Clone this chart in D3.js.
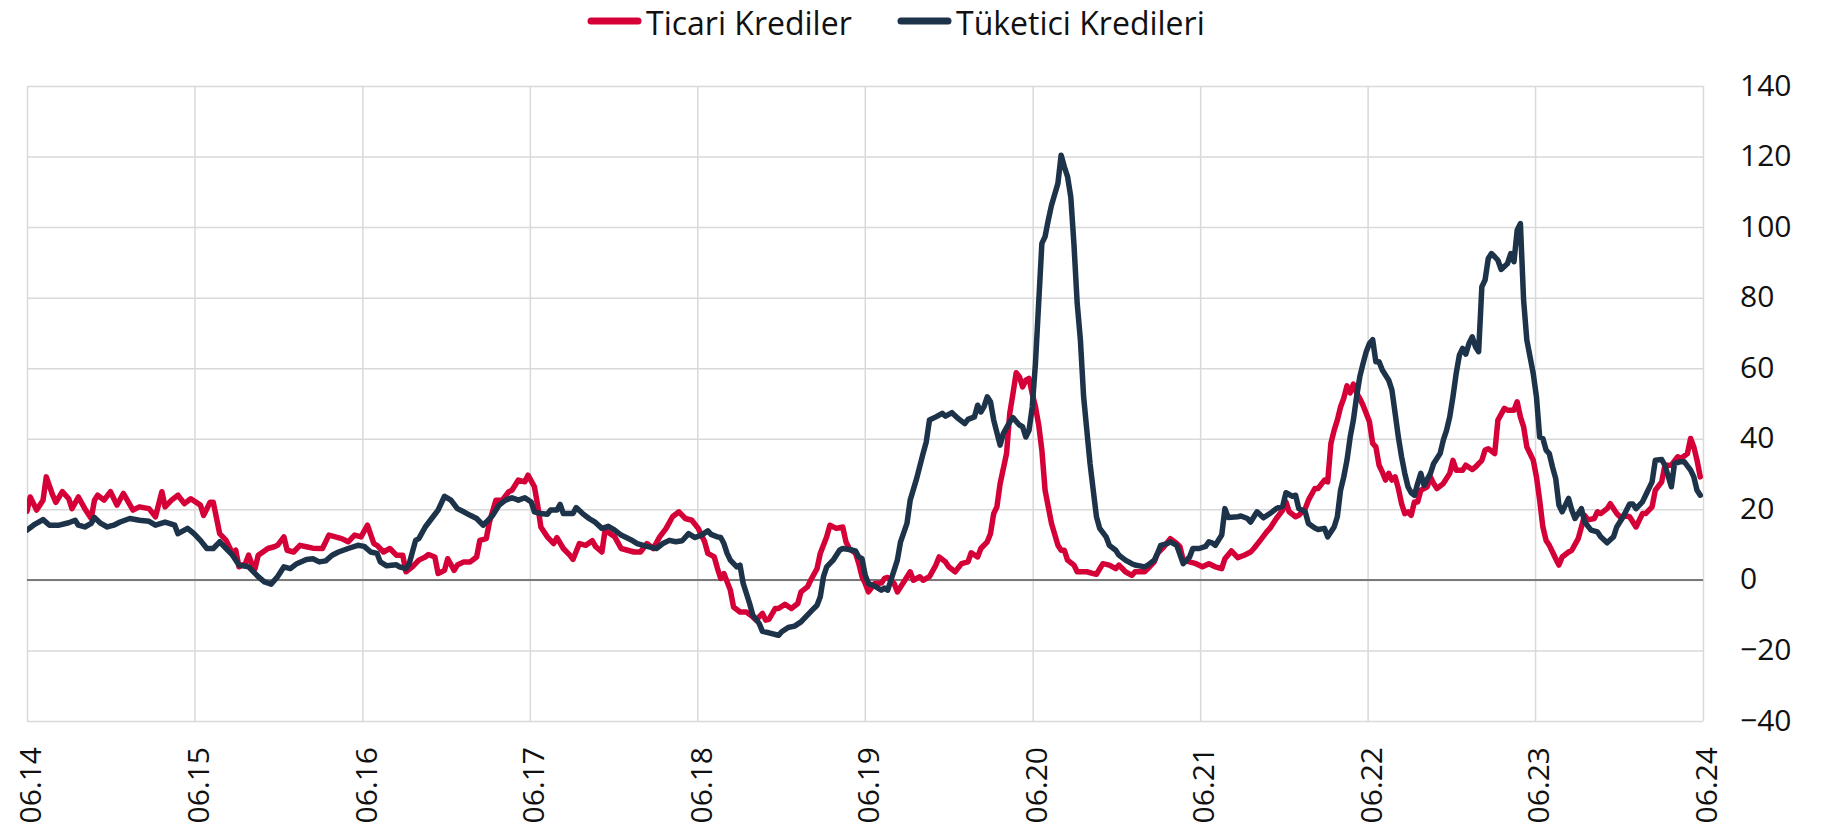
<!DOCTYPE html>
<html>
<head>
<meta charset="utf-8">
<script src="https://cdn.jsdelivr.net/npm/d3@7"></script>
<style>
  body { margin: 0; background: #fff; }
  svg text { font-family: "Open Sans", "Noto Sans", sans-serif; fill: #111; }
</style>
</head>
<body>
<svg id="chart" width="1831" height="830"></svg>
<script>
// Series names, axis ticks and weekly observations (week number since June 2014, % change)
const seriesNames = ["Ticari Krediler", "Tüketici Kredileri"];
const xTickLabels = ["06.14","06.15","06.16","06.17","06.18","06.19","06.20","06.21","06.22","06.23","06.24"];
const yTickValues = [-40,-20,0,20,40,60,80,100,120,140];

const ticari = [
[0,19.5],[1,23.5],[3,19.8],[5,22.6],[6,29.2],[8,24],[9,22],[11,25],[13,23],[14,20.2],[16,23.5],[18,20.2],[20,17.4],[21,22.6],[22,24],[24,22.6],[26,25],[28,21.2],[30,24.5],[33,19.8],[35,20.7],[38,20.2],[40,17.9],[42,25],[43,20.7],[45,22.6],[47,24],[49,21.6],[51,23],[54,21.2],[55,18.3],[57,22],[58,22],[60,13.1],[62,11.2],[64,7.5],[65,8.4],[66,3.7],[68,4.6],[69,7],[70,4.6],[71,3.2],[72,7],[75,8.9],[77,9.4],[78,9.8],[80,12.2],[81,8.4],[83,7.9],[85,9.8],[87,9.4],[89,9],[92,8.9],[94,12.7],[96,12.2],[98,11.7],[100,10.8],[102,12.7],[104,12.2],[106,15.5],
[108,10.3],[109,9.8],[111,7.9],[113,8.9],[115,7],[117,7],[118,2.3],[120,3.7],[122,5.6],[124,6.5],[125,7.2],[127,6.5],[128,1.8],[130,2.7],[131,6],[133,2.7],[134,4.2],[136,5.1],[138,5.1],[140,6.5],[141,11.2],[143,11.7],[144,16.4],[146,22.6],[148,22.6],[150,25],[151,25.4],[153,28.3],[155,27.8],[156,29.7],[158,26.4],[159,21.2],[160,15],[162,12.2],[164,10.3],[165,12],[167,8.9],[169,7],[170,5.8],[172,10.3],[174,9.8],[176,11.1],[177,9.5],[179,7.9],[180,14.1],[183,12.2],[185,8.9],[187,8.4],[189,7.9],[191,7.9],[193,10.3],[195,8.9],[197,12.2],[199,14.6],[201,17.9],[203,19.3],[205,17.4],[207,16.9],
[209,14.6],[211,10.8],[212,7.5],[214,6.5],[215,3.2],[216,0.4],[217,1.8],[219,-2.9],[220,-7.7],[222,-9.1],[224,-9.1],[226,-10.5],[227,-11.4],[229,-9.5],[230,-11.4],[231,-11.2],[233,-8.1],[234,-8.1],[236,-6.9],[238,-8.1],[240,-6.7],[241,-3.4],[243,-2],[244,-0.1],[246,3.2],[247,7.5],[249,12.2],[250,15.5],[252,14.6],[254,15],[255,10.8],[256,8.9],[258,7.5],[259,4.6],[260,0.9],[261,-1],[262,-3.4],[264,-1],[266,-0.9],[267,0.4],[268,0.7],[270,-1],[271,-3.4],[273,-0.6],[275,2.3],[276,-0.1],[278,0.9],[279,-0.1],[281,0.9],[283,4.2],[284,6.5],[286,5.1],[287,3.7],[289,2.3],[291,4.6],[293,5.1],[294,7.7],[296,6.5],[297,8.9],[299,10.8],[300,13.1],[301,18.8],[302,20.7],[303,27.3],[305,35.8],[306,47.2],[307,52.8],[308,58.7],[309,57.6],[310,54.7],[311,56.6],[312,57.1],[313,52.8],[314,49.1],[315,44],[316,36.8],[317,25.4],[319,16],[321,9.8],[322,8.4],[323,8.4],[324,5.6],[326,4.2],[327,2.3],[329,2.3],[330,2.3],[332,1.8],[333,1.6],[335,4.6],[337,4.2],[339,3.2],[340,4.2],[342,2.3],[344,1.3],[345,2.3],[348,2.3],[349,3.2],[351,5.1],[352,7.5],[354,9.4],[356,11.7],[358,10.3],[359,9.4],[360,5.6],
[362,5.1],[364,4.6],[366,3.7],[368,4.6],[370,3.7],[372,3.2],[373,6],[375,8.2],[377,6.3],[379,7],[381,7.9],[382,8.9],[384,11.2],[386,13.6],[387,14.6],[389,17.4],[391,19.8],[392,22.1],[393,19.3],[395,17.9],[396,18.3],[398,20.2],[399,22.6],[401,25.9],[402,25.9],[404,28.3],[405,27.8],[406,38.7],[407,42.4],[408,45.3],[409,49],[410,51.5],[411,55],[412,53],[413,55.5],[414,53],
[415,51.4],[416,49.5],[417,47.2],[418,44.8],[419,38.7],[420,37.7],[421,32.5],[422,30.6],[423,28.3],[424,30.2],[425,28.3],[426,29.2],[427,25.9],[428,21.6],[429,18.8],[430,19.3],[431,18.3],[432,22.1],[433,22.1],[434,25.4],[436,26.4],[437,29.2],[438,27.3],[439,25.9],[441,27.3],[443,30.2],[444,33.9],[445,31.1],[447,31.1],[448,32.5],[450,31.3],[451,32],[453,33.9],[454,36.8],[455,37.2],[457,35.8],[458,45.3],[460,48.6],[461,48.1],[463,48.1],[464,50.5],[465,46.2],[466,43.4],[467,37.7],
[469,33.9],[470,29.2],[471,22.6],[472,15],[473,11.2],[474,9.8],[475,7.9],[476,6],[477,4.2],[478,6.5],[480,7.9],[481,8.4],[483,11.7],[484,15],[485,18.3],[486,17],[488,17.4],[489,19.3],[490,18.8],[492,20.2],[493,21.6],[495,18.8],[496,17.9],[498,18.1],[499,17.9],[501,15],[503,18.8],[504,18.8],[506,20.7],[507,25.4],[509,27.8],[510,32.5],[512,32.5],[514,34.9],[515,34.4],[517,35.8],[518,40.1],[519,37.7],[520,33.9],[521,29.2]
];

const tuketici = [
[0,14.1],[2,15.5],[5,17.1],[7,15.5],[10,15.5],[13,16.2],[15,16.9],[16,15.5],[18,15],[20,16],[21,17.7],[23,16],[25,15],[27,15.5],[29,16.4],[32,17.4],[35,16.9],[38,16.6],[40,15.5],[43,16.4],[46,15.5],[47,13.1],[50,14.6],[52,13.1],[54,11.2],[56,8.9],[58,8.9],[60,10.8],[62,8.9],[64,7],[66,4.2],[69,3.7],[72,0.9],[74,-0.6],[76,-1.2],[78,0.9],[80,3.7],[82,3.2],[84,4.6],[87,5.8],[89,6],[91,5.1],[93,5.4],[95,7],[97,7.9],[100,8.9],[103,9.8],[105,9.5],
[107,7.9],[109,7.5],[110,5.1],[112,4],[115,4.3],[116,3.7],[118,3.2],[119,4.6],[121,11.2],[122,11.7],[124,15],[126,17.4],[128,19.8],[130,23.7],[132,22.6],[134,20.2],[136,19.3],[138,18.3],[140,17.4],[142,15.5],[143,16.4],[145,18.3],[147,21.2],[149,22.6],[151,23.3],[153,22.6],[155,23.3],[157,22.1],[158,19.3],[160,18.8],[162,18.6],[163,19.8],[165,19.8],[166,21.4],[167,18.8],[170,18.8],[171,20.5],[173,18.8],[175,17.4],[177,16.3],[179,14.6],[181,15.2],[183,14.1],[185,12.7],[188,11.4],[190,10.3],[193,9.5],[196,8.9],[198,10.3],[200,11.2],[202,10.8],[204,11.1],[206,13.1],
[208,12],[210,12.7],[212,13.9],[213,12.9],[215,12.2],[216,12],[217,10.3],[218,7.5],[219,5.6],[221,3.7],[222,4.2],[223,-1],[225,-6.7],[226,-10],[228,-12.4],[229,-14.6],[231,-15],[234,-15.7],[235,-14.7],[237,-13.5],[239,-13.1],[241,-11.9],[243,-10],[245,-8.1],[246,-7.2],[247,-4.8],[248,0.9],[249,3.7],[251,5.6],[253,8.4],[254,8.9],[256,8.6],[258,8.2],[259,6.5],[260,6],[261,1.3],[262,-1],[264,-1.8],[266,-2.9],[267,-2.3],[268,-2.9],[269,-0.1],[271,5.6],[272,10.8],[274,16],[275,22.6],[277,28.7],[279,35.8],[280,39.1],[281,45.3],[283,46.2],[285,47.2],[286,46.4],[288,47.4],[290,45.7],[292,44.3],[293,45.5],[295,46.2],[296,49.5],[297,47.6],[298,49.1],[299,51.9],[300,50.5],[301,45.3],[303,38.2],[304,41.5],[306,44.8],[307,46],[309,43.9],[310,43.4],[311,40.5],[312,42.4],[313,49],[314,61.3],[315,78.4],[316,95.4],[317,97.3],[318,102],[319,106.2],[321,112.4],[322,120.4],[323,117.1],[324,114.3],[325,108.6],[326,95],[327,78.4],[328,68],[329,51.9],[330,42.4],[331,33],[332,25.4],[333,17.9],[334,14.6],[336,12.2],[337,9.8],[339,8.4],[340,7],[342,5.6],[344,4.6],[345,4.2],[348,3.7],[349,4.2],[351,5.6],[352,7.5],[353,9.8],[355,10.3],[356,10.8],[358,9.8],[360,4.6],[362,6.5],[363,8.9],[365,8.9],[367,9.5],[368,10.8],
[369,10.5],[370,9.8],[372,12.7],[373,20.2],[374,17.7],[377,17.9],[378,18.1],[380,17.4],[381,16.4],[383,19.3],[385,17.6],[387,18.8],[389,20.2],[391,20.9],[392,24.7],[394,23.7],[395,24],[396,20.2],[398,19.3],[399,16],[401,14.7],[402,14.3],[404,14.6],[405,12.2],[407,15],[408,17.9],[409,25.4],[410,29.2],[411,33.9],[412,40.5],[413,45.3],[414,52],
[415,57.6],[416,61.3],[417,64.7],[418,67],[419,68.1],[420,61.8],[421,61.8],[422,59.5],[424,56.6],[425,53.8],[426,47.2],[427,40.5],[428,34.9],[429,30.2],[430,26.4],[431,24.7],[432,24],[433,27.3],[434,30.2],[435,26.8],[437,30.2],[438,33],[440,35.8],[441,39.6],[442,42.4],[443,46.2],[444,51.9],[445,58.5],[446,63.7],[447,65.6],[448,64],[449,67],[450,68.9],[451,66.1],[452,64.7],[453,83.1],[454,85],[455,91.1],[456,92.5],[457,91.6],[458,90.6],[459,88],[461,89.7],[462,92.5],[463,90.2],[464,99.1],[465,101],[466,79.3],[467,68],
[469,58.5],[470,51.9],[471,40.5],[472,40.1],[473,36.8],[474,35.8],[475,32],[476,28.7],[477,21.2],[478,19.3],[479,21.2],[480,23.1],[481,19.8],[482,17.4],[484,20.2],[485,16.4],[487,14.1],[489,13.6],[490,12.2],[492,10.5],[494,12.2],[495,15],[497,17.9],[499,21.5],[500,21.5],[501,20.2],[503,22.1],[504,24],[506,27.8],[507,33.9],[509,34.1],[510,32.5],[512,26.4],[513,33],[515,33.5],[516,33.5],[518,31.1],[519,29.2],[520,25.4],[521,24]
];

const colors = ["#d50037", "#1c3349"];

const plot = { left: 27, right: 1703, top: 86, bottom: 721 };

const startDate = new Date(2014, 5, 1);
const weekToDate = w => d3.timeDay.offset(startDate, w * 7);
const tickDates = xTickLabels.map((_, i) => new Date(2014 + i, 5, 1));

const x = d3.scaleTime()
  .domain([tickDates[0], tickDates[tickDates.length - 1]])
  .range([plot.left, plot.right]);
const y = d3.scaleLinear().domain([-40, 140]).range([plot.bottom, plot.top]);

const svg = d3.select("#chart");

svg.append("defs").append("clipPath").attr("id", "plot-clip")
  .append("rect")
  .attr("x", plot.left).attr("y", plot.top - 10)
  .attr("width", plot.right - plot.left).attr("height", plot.bottom - plot.top + 20);

// Horizontal grid lines
svg.append("g")
  .attr("transform", `translate(${plot.left},0)`)
  .call(d3.axisLeft(y).tickValues(yTickValues).tickSize(-(plot.right - plot.left)).tickFormat(""))
  .call(g => g.select(".domain").remove())
  .call(g => g.selectAll("line").attr("stroke", "#d9d9d9").attr("stroke-width", 1.5));

// Vertical grid lines at each June
svg.append("g")
  .attr("transform", `translate(0,${plot.bottom})`)
  .call(d3.axisBottom(x).tickValues(tickDates).tickSize(-(plot.bottom - plot.top)).tickFormat(""))
  .call(g => g.select(".domain").remove())
  .call(g => g.selectAll("line").attr("stroke", "#d9d9d9").attr("stroke-width", 1.5));

// Zero line
svg.append("line")
  .attr("x1", plot.left).attr("x2", plot.right)
  .attr("y1", y(0)).attr("y2", y(0))
  .attr("stroke", "#7a7a7a").attr("stroke-width", 2);

// Right-hand value axis labels
const yAxis = svg.append("g")
  .attr("transform", `translate(${plot.right},0)`)
  .call(d3.axisRight(y).tickValues(yTickValues).tickSize(0).tickPadding(37).tickFormat(d3.format("d")));
yAxis.select(".domain").remove();
yAxis.selectAll("text")
  .attr("font-size", 30)
  .attr("font-family", '"Open Sans", sans-serif')
  .attr("fill", "#111")
  .attr("dy", "0.3em");

// Rotated date labels under the plot
const xAxis = svg.append("g")
  .attr("transform", `translate(0,${plot.bottom})`)
  .call(d3.axisBottom(x).tickValues(tickDates).tickSize(0).tickFormat((d, i) => xTickLabels[i]));
xAxis.select(".domain").remove();
xAxis.selectAll("text")
  .attr("font-size", 30)
  .attr("font-family", '"Open Sans", sans-serif')
  .attr("fill", "#111")
  .attr("text-anchor", "end")
  .attr("transform", "translate(0,26) rotate(-90)")
  .attr("x", 0).attr("y", 0)
  .attr("dy", "0.46em");

// Lines
const line = d3.line()
  .x(d => x(weekToDate(d[0])))
  .y(d => y(d[1]));

const lines = svg.append("g").attr("clip-path", "url(#plot-clip)");
[ticari, tuketici].forEach((series, i) => {
  lines.append("path")
    .datum(series)
    .attr("d", line)
    .attr("fill", "none")
    .attr("stroke", colors[i])
    .attr("stroke-width", 5.5)
    .attr("stroke-linejoin", "round")
    .attr("stroke-linecap", "round");
});

// Legend
const legendItems = [
  { name: seriesNames[0], color: colors[0], x: 587 },
  { name: seriesNames[1], color: colors[1], x: 897 }
];
const legend = svg.append("g").attr("transform", "translate(0,23)");
legendItems.forEach(item => {
  legend.append("line")
    .attr("x1", item.x + 4).attr("x2", item.x + 51)
    .attr("y1", -2).attr("y2", -2)
    .attr("stroke", item.color).attr("stroke-width", 7)
    .attr("stroke-linecap", "round");
  legend.append("text")
    .attr("x", item.x + 59).attr("y", 0)
    .attr("dy", "0.36em")
    .attr("font-size", 32)
    .text(item.name);
});
</script>
</body>
</html>
